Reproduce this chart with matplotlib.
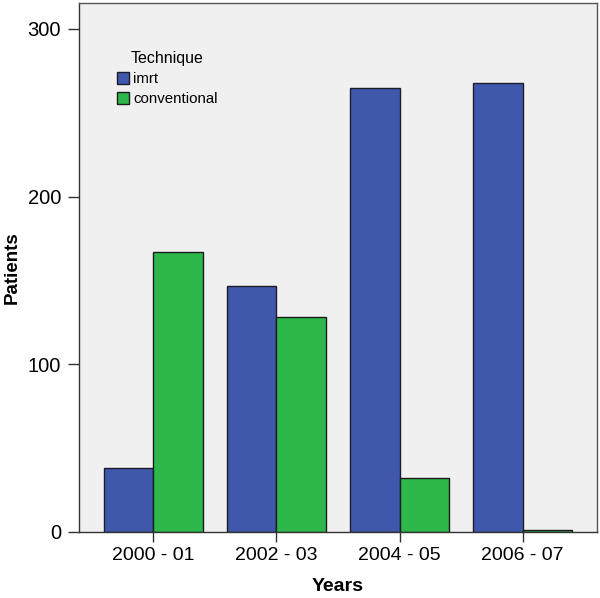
import numpy as np
import matplotlib.pyplot as plt
from matplotlib.patches import Patch

plt.rcParams['font.family'] = ['Liberation Sans', 'DejaVu Sans']

years = ['2000 - 01', '2002 - 03', '2004 - 05', '2006 - 07']
imrt = [38, 147, 265, 268]
conventional = [167, 128, 32, 1]

blue = '#3F58AC'
green = '#2DB84B'

fig = plt.figure(figsize=(6, 5.98), dpi=100)
ax = fig.add_axes([0.1317, 0.1104, 0.8633, 0.8846])
ax.set_facecolor('#F0F0F0')

x = np.arange(len(years))
w = 0.405
ax.bar(x - w / 2, imrt, w, color=blue, edgecolor='#1c1c2c', linewidth=1.0)
ax.bar(x + w / 2, conventional, w, color=green, edgecolor='#1c1c1c', linewidth=1.0)

ax.set_xlim(-0.605, 3.605)
ax.set_ylim(0, 315.5)
ax.set_yticks([0, 100, 200, 300])
ax.set_xticks(x)
ax.set_xticklabels(years)

for s in ax.spines.values():
    s.set_color('#555555')
    s.set_linewidth(1.0)
ax.spines['left'].set_color('#333333')
ax.spines['bottom'].set_color('#333333')

ax.tick_params(axis='y', length=8, width=1, color='#333333', labelsize=14.5, pad=5)
ax.tick_params(axis='x', length=7, width=1, color='#333333', labelsize=14, pad=4)

ax.set_xlabel('Years', fontsize=14, fontweight='bold', labelpad=10)
ax.set_ylabel('Patients', fontsize=13.5, fontweight='bold', labelpad=5)

handles = [Patch(facecolor=blue, edgecolor='#1c1c2c', label='imrt'),
           Patch(facecolor=green, edgecolor='#1c1c1c', label='conventional')]
leg = ax.legend(handles=handles, title='Technique', loc='upper left',
                bbox_to_anchor=(0.073, 0.91), frameon=False, fontsize=10.8,
                title_fontsize=11.5, handlelength=0.8, handleheight=0.9,
                handletextpad=0.3, labelspacing=0.4, borderaxespad=0,
                borderpad=0)

fig.savefig('out.png', dpi=100)
